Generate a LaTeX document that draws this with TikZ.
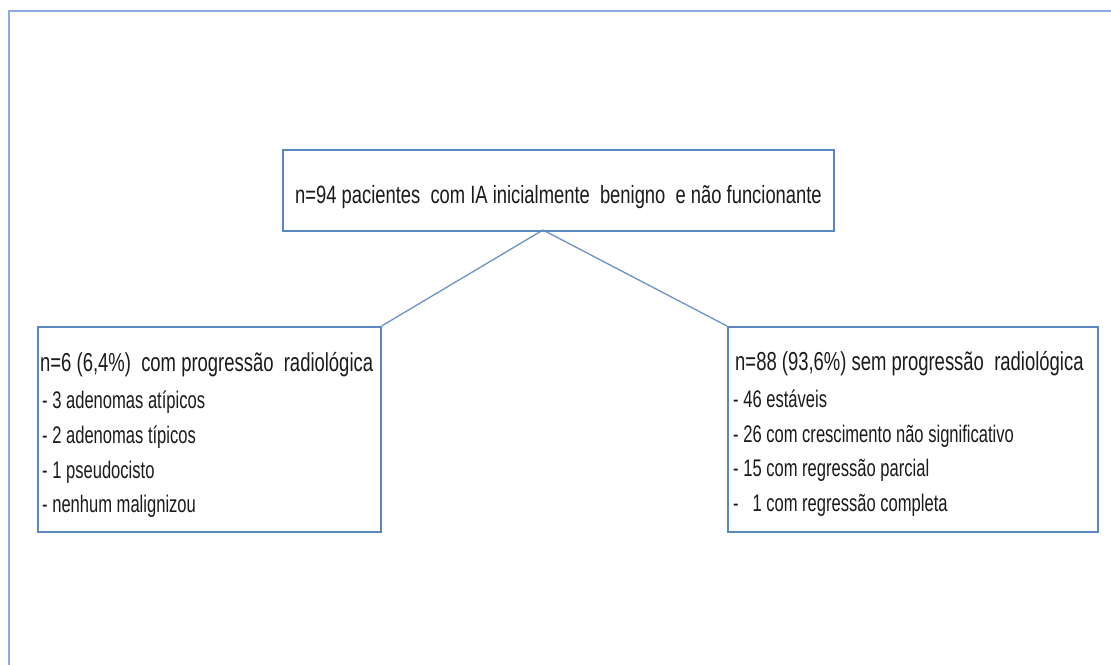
\documentclass[tikz,border=0pt]{standalone}
\usepackage{fontspec}
\setmainfont{Liberation Sans}
\newfontfamily\headfont[FakeStretch=0.71]{Liberation Sans}
\newfontfamily\topfont[FakeStretch=0.735]{Liberation Sans}
\newfontfamily\itemfont[FakeStretch=0.69]{Liberation Sans}
\definecolor{framecol}{HTML}{8FAADC}
\definecolor{boxcol}{HTML}{5B87C0}
\definecolor{linkcol}{HTML}{6A93C8}
\definecolor{txtcol}{HTML}{1C1A1A}
\begin{document}
\begin{tikzpicture}[x=1pt,y=-1pt,
  box/.style={draw=boxcol, line width=1.6pt, fill=white, inner sep=0pt},
  link/.style={draw=linkcol, line width=1.3pt},
  head/.style={anchor=base west, inner sep=0pt, text=txtcol, font=\headfont\fontsize{26}{30}\selectfont},
  item/.style={anchor=base west, inner sep=0pt, text=txtcol, font=\itemfont\fontsize{24}{28}\selectfont},
  toptext/.style={anchor=base west, inner sep=0pt, text=txtcol, font=\topfont\fontsize{25}{30}\selectfont}]
  \useasboundingbox (0,0) rectangle (1111,664);
  \fill[white] (0,0) rectangle (1111,664);

  % outer frame (only its top and left sides fall inside the page)
  \coordinate (frameBL) at (9,670);
  \coordinate (frameTL) at (9,11);
  \coordinate (frameTR) at (1120,11);
  \draw[framecol, line width=2.4pt] (frameBL) -- (frameTL) -- (frameTR);

  % boxes
  \node[box, anchor=north west, minimum width=551pt, minimum height=81pt] (top) at (282,149) {};
  \node[box, anchor=north west, minimum width=343pt, minimum height=205pt] (L) at (37,326) {};
  \node[box, anchor=north west, minimum width=370pt, minimum height=205pt] (R) at (727,326) {};

  % connectors
  \coordinate (J) at (543,230);
  \draw[link] (J) -- (L.north east);
  \draw[link] (J) -- (R.north west);
  \draw[boxcol, line width=1.6pt] (top.south west) -- (top.south east);

  % top text
  \node[toptext] (t0) at (295,203) {n=94 pacientes\ \ com IA inicialmente\ \ benigno\ \ e não funcionante};

  % left box text
  \node[head] (l0) at (40,371) {n=6 (6,4\%)\ \ com progressão\ \ radiológica};
  \node[item] (l1) at (42,408) {- 3 adenomas atípicos};
  \node[item] (l2) at (42,443) {- 2 adenomas típicos};
  \node[item] (l3) at (42,478) {- 1 pseudocisto};
  \node[item] (l4) at (42,512) {- nenhum malignizou};

  % right box text
  \node[head] (r0) at (735,370) {n=88 (93,6\%) sem progressão\ \ radiológica};
  \node[item] (r1) at (733,407) {- 46 estáveis};
  \node[item] (r2) at (733,442) {- 26 com crescimento não significativo};
  \node[item] (r3) at (733,476) {- 15 com regressão parcial};
  \node[item] (r4) at (733,511) {-\ \ \ 1 com regressão completa};
\end{tikzpicture}
\end{document}
